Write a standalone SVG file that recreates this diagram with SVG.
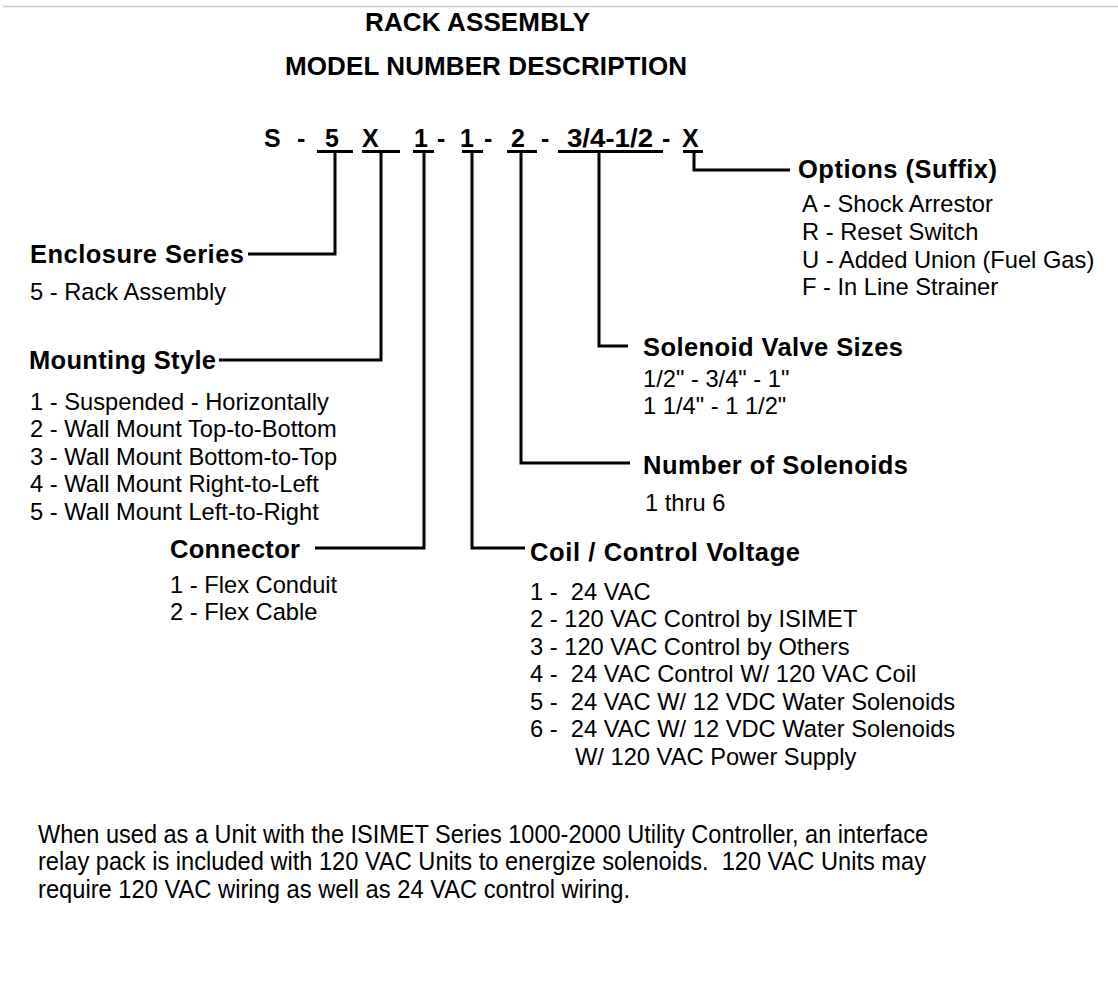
<svg xmlns="http://www.w3.org/2000/svg" width="1118" height="984" viewBox="0 0 1118 984">
<style>
.t{font-family:"Liberation Sans",Arial,sans-serif;fill:#000}
.title{font-size:26px;font-weight:bold}
.code{font-size:25px;font-weight:bold}
.h{font-size:25.5px;font-weight:bold}
.b{font-size:23.7px}
.f{font-size:26px}
.ln{fill:none;stroke:#000;stroke-width:3}
</style>
<rect width="1118" height="984" fill="#fff"/>
<line x1="3" y1="6.5" x2="1118" y2="6.5" stroke="#c8c8c8" stroke-width="1.5"/>
<g id="title">
<text class="t title" x="365" y="31" textLength="225">RACK ASSEMBLY</text>
<text class="t title" x="285" y="75" textLength="402">MODEL NUMBER DESCRIPTION</text>
</g>
<g id="model-number">
<text class="t code" x="264" y="147">S</text>
<text class="t code" x="297" y="147">-</text>
<text class="t code" x="325" y="147">5</text>
<text class="t code" x="362" y="147">X</text>
<text class="t code" x="414" y="147">1</text>
<text class="t code" x="437" y="147">-</text>
<text class="t code" x="460" y="147">1</text>
<text class="t code" x="484" y="147">-</text>
<text class="t code" x="511" y="147">2</text>
<text class="t code" x="541" y="147">-</text>
<text class="t code" x="567" y="147" textLength="86" lengthAdjust="spacingAndGlyphs">3/4-1/2</text>
<text class="t code" x="662" y="147">-</text>
<text class="t code" x="682" y="147">X</text>
</g>
<g id="connectors" class="ln">
<line x1="317" y1="151.5" x2="353" y2="151.5"/>
<line x1="362" y1="151.5" x2="400" y2="151.5"/>
<line x1="413" y1="151.5" x2="434" y2="151.5"/>
<line x1="462" y1="151.5" x2="483" y2="151.5"/>
<line x1="507" y1="151.5" x2="537" y2="151.5"/>
<line x1="558" y1="151.5" x2="663" y2="151.5"/>
<line x1="683" y1="151.5" x2="703" y2="151.5"/>
<polyline points="335,151 335,254 248,254"/>
<polyline points="381,151 381,360 219,360"/>
<polyline points="424,151 424,548 315,548"/>
<polyline points="472,151 472,548 525,548"/>
<polyline points="521,151 521,463 630,463"/>
<polyline points="599,151 599,346 628,346"/>
<polyline points="694,151 694,170 790,170"/>
</g>
<g id="enclosure-series">
<text class="t h" x="30" y="263" textLength="214">Enclosure Series</text>
<text class="t b" x="30" y="300">5 - Rack Assembly</text>
</g>
<g id="mounting-style">
<text class="t h" x="29" y="369" textLength="187">Mounting Style</text>
<text class="t b" x="30" y="410">1 - Suspended - Horizontally</text>
<text class="t b" x="30" y="437">2 - Wall Mount Top-to-Bottom</text>
<text class="t b" x="30" y="465">3 - Wall Mount Bottom-to-Top</text>
<text class="t b" x="30" y="492">4 - Wall Mount Right-to-Left</text>
<text class="t b" x="30" y="520">5 - Wall Mount Left-to-Right</text>
</g>
<g id="connector">
<text class="t h" x="170" y="558" textLength="130">Connector</text>
<text class="t b" x="170" y="593">1 - Flex Conduit</text>
<text class="t b" x="170" y="620">2 - Flex Cable</text>
</g>
<g id="coil-control-voltage">
<text class="t h" x="530" y="561" textLength="270">Coil / Control Voltage</text>
<text class="t b" x="530" y="600" xml:space="preserve">1 -  24 VAC</text>
<text class="t b" x="530" y="627">2 - 120 VAC Control by ISIMET</text>
<text class="t b" x="530" y="655">3 - 120 VAC Control by Others</text>
<text class="t b" x="530" y="682" xml:space="preserve">4 -  24 VAC Control W/ 120 VAC Coil</text>
<text class="t b" x="530" y="710" xml:space="preserve">5 -  24 VAC W/ 12 VDC Water Solenoids</text>
<text class="t b" x="530" y="737" xml:space="preserve">6 -  24 VAC W/ 12 VDC Water Solenoids</text>
<text class="t b" x="575" y="765">W/ 120 VAC Power Supply</text>
</g>
<g id="number-of-solenoids">
<text class="t h" x="643" y="474" textLength="265">Number of Solenoids</text>
<text class="t b" x="645" y="511">1 thru 6</text>
</g>
<g id="solenoid-valve-sizes">
<text class="t h" x="643" y="356" textLength="260">Solenoid Valve Sizes</text>
<text class="t b" x="643" y="387">1/2" - 3/4" - 1"</text>
<text class="t b" x="643" y="414">1 1/4" - 1 1/2"</text>
</g>
<g id="options">
<text class="t h" x="798" y="178" textLength="199">Options (Suffix)</text>
<text class="t b" x="802" y="212">A - Shock Arrestor</text>
<text class="t b" x="802" y="240">R - Reset Switch</text>
<text class="t b" x="802" y="268">U - Added Union (Fuel Gas)</text>
<text class="t b" x="802" y="295">F - In Line Strainer</text>
</g>
<g id="note">
<text class="t f" x="38" y="843" textLength="890" lengthAdjust="spacingAndGlyphs">When used as a Unit with the ISIMET Series 1000-2000 Utility Controller, an interface</text>
<text class="t f" x="38" y="870" textLength="888" lengthAdjust="spacingAndGlyphs" xml:space="preserve">relay pack is included with 120 VAC Units to energize solenoids.  120 VAC Units may</text>
<text class="t f" x="38" y="898" textLength="592" lengthAdjust="spacingAndGlyphs">require 120 VAC wiring as well as 24 VAC control wiring.</text>
</g>
</svg>
